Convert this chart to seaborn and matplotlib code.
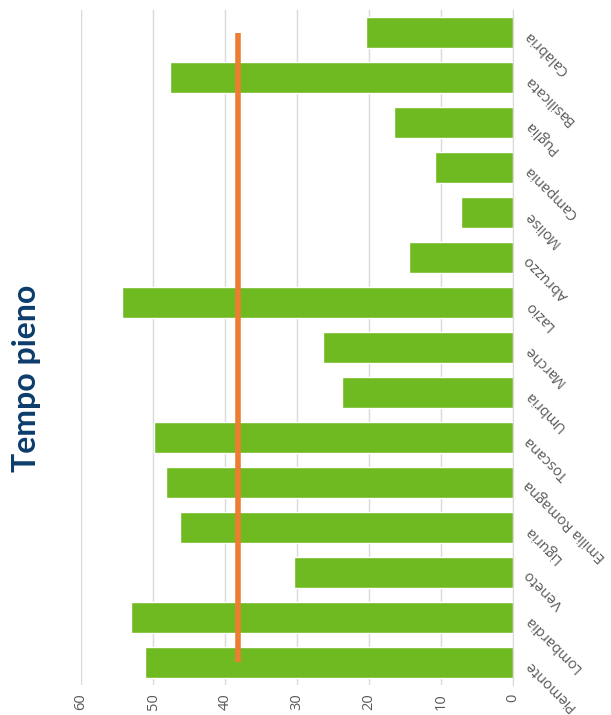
import numpy as np
import matplotlib
matplotlib.use('Agg')
import matplotlib.pyplot as plt
import seaborn as sns

# Data (top to bottom as drawn)
regioni = ['Calabria', 'Basilicata', 'Puglia', 'Campania', 'Molise', 'Abruzzo', 'Lazio',
           'Marche', 'Umbria', 'Toscana', 'Emilia Romagna', 'Liguria', 'Veneto',
           'Lombardia', 'Piemonte']
valori = [20.4, 47.6, 16.5, 10.8, 7.2, 14.4, 54.3, 26.4, 23.7, 49.9, 48.2, 46.3, 30.4, 53.1, 51.1]
media = [38.2] * len(regioni)
tick_valori = [0, 10, 20, 30, 40, 50, 60]

sns.set_style('white')
plt.rcParams['font.family'] = ['Open Sans', 'DejaVu Sans']

fig = plt.figure(figsize=(6.11, 7.15), dpi=100)
ax = fig.add_axes([0.1326, 0.042, 0.707, 0.944])

sns.barplot(x=valori, y=regioni, orient='h', color='#70BA21', saturation=1,
            width=0.67, ax=ax, zorder=2)
ax.plot(media, np.arange(len(regioni)), color='#ED7D31', linewidth=4, zorder=3,
        solid_capstyle='butt')

ax.set_xlim(60, 0)
ax.set_ylim(len(regioni) - 0.5, -0.5)
ax.set_xticks(tick_valori)
ax.set_xticklabels([str(v) for v in tick_valori], rotation=90, color='#595959', fontsize=10.5)
ax.grid(axis='x', color='#D9D9D9', linewidth=1, zorder=0)
ax.tick_params(axis='x', length=0, pad=6)

ax.yaxis.tick_right()
ax.tick_params(axis='y', length=0, pad=10)
for lab in ax.get_yticklabels():
    lab.set_rotation(135)
    lab.set_rotation_mode('anchor')
    lab.set_ha('right')
    lab.set_va('center')
    lab.set_color('#595959')
    lab.set_fontsize(10.5)

for s in ['top', 'left', 'bottom']:
    ax.spines[s].set_visible(False)
ax.spines['right'].set_color('#D9D9D9')
ax.set_xlabel('')
ax.set_ylabel('')

fig.text(0.044, 0.471, 'Tempo pieno', rotation=90, ha='center', va='center',
         fontsize=23, fontweight='bold', color='#0B3C6B', family=['Lato', 'DejaVu Sans'])

fig.savefig('out.png', dpi=100)
